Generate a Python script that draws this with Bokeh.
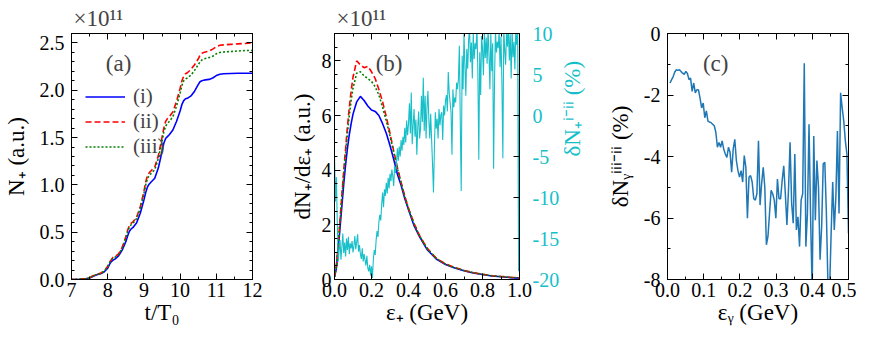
import math
import numpy as np
from bokeh.plotting import figure
from bokeh.layouts import row
from bokeh.models import (LinearAxis, Range1d, SingleIntervalTicker,
                          PrintfTickFormatter, CustomJSTickFormatter, Label)
from bokeh.embed import file_html
from bokeh.resources import INLINE

FONT = "serif"
CYAN = "#17bfc9"
LABEL_SIZE = "23px"

# ---------------- panel (a) data: N+ vs t/T0 (x 1e11) ----------------
t_a = [7.0, 7.2, 7.4, 7.5, 7.6, 7.7, 7.8, 7.9, 8.0, 8.05, 8.1, 8.15, 8.2, 8.3, 8.4,
       8.5, 8.55, 8.6, 8.65, 8.7, 8.8, 8.9, 9.0, 9.05, 9.1, 9.15, 9.2, 9.3, 9.4,
       9.5, 9.55, 9.6, 9.65, 9.7, 9.8, 9.9, 10.0, 10.05, 10.1, 10.15, 10.2, 10.3,
       10.4, 10.5, 10.55, 10.6, 10.65, 10.7, 10.8, 10.9, 11.0, 11.1, 11.2, 11.4,
       11.6, 11.8, 12.0]
N_i = [0.0, 0.002, 0.008, 0.015, 0.035, 0.05, 0.06, 0.08, 0.12, 0.16, 0.19, 0.205,
       0.215, 0.25, 0.31, 0.40, 0.46, 0.51, 0.535, 0.55, 0.60, 0.70, 0.84, 0.92,
       0.98, 1.01, 1.03, 1.07, 1.18, 1.35, 1.44, 1.49, 1.51, 1.53, 1.58, 1.67,
       1.78, 1.85, 1.89, 1.91, 1.915, 1.94, 1.99, 2.06, 2.09, 2.10, 2.105, 2.11,
       2.115, 2.13, 2.155, 2.17, 2.175, 2.178, 2.18, 2.18, 2.18]
N_ii = [0.0, 0.002, 0.01, 0.018, 0.04, 0.055, 0.065, 0.09, 0.14, 0.18, 0.21, 0.235,
        0.24, 0.27, 0.34, 0.45, 0.52, 0.57, 0.595, 0.61, 0.66, 0.77, 0.93, 1.03,
        1.10, 1.13, 1.15, 1.19, 1.31, 1.50, 1.60, 1.67, 1.70, 1.72, 1.77, 1.88,
        2.02, 2.10, 2.15, 2.175, 2.185, 2.22, 2.27, 2.33, 2.37, 2.39, 2.40, 2.405,
        2.415, 2.435, 2.46, 2.475, 2.48, 2.485, 2.49, 2.495, 2.50]
N_iii = [0.0, 0.002, 0.009, 0.017, 0.038, 0.053, 0.063, 0.087, 0.135, 0.175, 0.205,
         0.228, 0.235, 0.265, 0.33, 0.44, 0.505, 0.555, 0.58, 0.595, 0.645, 0.75,
         0.905, 1.0, 1.07, 1.10, 1.12, 1.16, 1.28, 1.46, 1.56, 1.62, 1.65, 1.67,
         1.72, 1.83, 1.97, 2.05, 2.10, 2.12, 2.13, 2.16, 2.21, 2.27, 2.30, 2.32,
         2.33, 2.335, 2.345, 2.36, 2.385, 2.40, 2.405, 2.41, 2.415, 2.42, 2.42]

# ---------------- panel (b) data: dN+/de+ spectra (x 1e11) ----------------
e_b = [0.0, 0.01, 0.02, 0.03, 0.04, 0.05, 0.06, 0.07, 0.08, 0.09, 0.10, 0.12, 0.14,
       0.16, 0.18, 0.20, 0.22, 0.24, 0.26, 0.28, 0.30, 0.32, 0.34, 0.36, 0.38,
       0.40, 0.43, 0.46, 0.50, 0.55, 0.60, 0.65, 0.70, 0.75, 0.80, 0.85, 0.90,
       0.95, 1.0]
S_i = [0.1, 0.4, 1.1, 1.9, 2.7, 3.5, 4.2, 4.8, 5.3, 5.7, 6.05, 6.5, 6.7, 6.55, 6.35,
       6.2, 6.15, 6.0, 5.7, 5.35, 4.9, 4.4, 3.85, 3.45, 2.95, 2.55, 1.97, 1.56,
       1.1, 0.75, 0.55, 0.42, 0.32, 0.24, 0.18, 0.13, 0.1, 0.07, 0.05]
S_ii = [0.1, 0.5, 1.3, 2.2, 3.1, 4.0, 4.8, 5.6, 6.3, 6.9, 7.4, 8.0, 7.85, 7.75, 7.8,
        7.6, 7.35, 6.95, 6.5, 5.95, 5.35, 4.7, 4.1, 3.55, 3.05, 2.6, 2.05, 1.6, 1.15,
        0.78, 0.57, 0.44, 0.33, 0.25, 0.19, 0.14, 0.11, 0.08, 0.06]
S_iii = [0.1, 0.45, 1.2, 2.1, 3.0, 3.85, 4.6, 5.35, 6.0, 6.55, 7.0, 7.55, 7.6, 7.45,
         7.35, 7.25, 7.05, 6.75, 6.3, 5.8, 5.25, 4.65, 4.05, 3.52, 3.03, 2.6, 2.04,
         1.59, 1.14, 0.77, 0.56, 0.43, 0.33, 0.25, 0.19, 0.14, 0.11, 0.08, 0.06]
# relative difference (i - ii), percent, on 0..1 GeV grid step 0.005
dN_i_ii = [
    -4.8, -10.5, -7.5, -13.0, -17.8, -16.5, -15.2, -17.6, -16.0, -14.4,
    -16.8, -15.5, -17.2, -15.0, -16.4, -14.8, -16.9, -15.6, -16.2, -15.3,
    -16.7, -15.9, -14.7, -16.3, -15.4, -14.5, -16.6, -15.8, -16.9, -17.5,
    -16.2, -17.8, -16.9, -17.6, -18.3, -17.1, -18.6, -19.0, -18.2, -19.5,
    -18.4, -19.8, -17.6, -16.4, -17.0, -15.2, -14.1, -14.8, -13.0, -12.1,
    -12.8, -10.9, -9.4, -11.2, -9.0, -9.8, -8.2, -9.5, -7.6, -8.9,
    -7.1, -8.0, -6.6, -7.4, -8.6, -6.2, -7.0, -5.8, -4.0, -5.5,
    -3.8, -5.0, -3.0, -4.3, -2.6, -3.6, -1.5, -3.3, -0.6, -2.4,
    -1.0, 1.5, -2.2, 2.8, -3.5, -1.2, 0.8, -2.6, -0.5, -4.8,
    -1.5, 0.5, -2.8, -1.6, 2.4, -0.8, 4.6, -1.9, 2.4, -2.8,
    1.0, 3.0, -0.5, -2.8, 0.2, -3.0, -6.0, -9.4, -4.0, 0.4,
    -1.6, -0.4, -2.8, 0.8, -1.2, 0.1, 0.4, -3.0, 1.2, 0.0,
    1.8, 2.5, 0.5, 5.3, 2.8, 1.6, 0.4, -4.8, 3.2, 1.0,
    2.2, 1.6, 4.0, 3.2, 4.5, 8.5, -1.0, -9.2, 7.3, 3.2,
    10.0, 6.0, 2.4, 8.1, 5.7, 9.3, 10.5, 6.5, 8.9, 4.5,
    10.1, 6.9, 8.8, 8.1, 10.8, 5.3, -5.4, 7.7, 2.5, 9.7,
    8.2, 4.9, 10.2, 7.0, 9.5, 6.3, 10.6, 7.6, 3.2, 10.0,
    5.4, 8.8, -6.5, 4.2, 10.5, 7.7, 9.0, 8.2, 10.3, 5.9,
    9.6, 3.8, -5.2, 10.6, 8.0, 6.2, 10.3, 8.4, 10.8, 6.7,
    9.9, 4.5, 10.4, 7.1, 9.0, 5.6, 10.7, 8.6, 10.2, -19.0,
    9.5]
e_d = np.linspace(0.0, 1.0, len(dN_i_ii))

# ---------------- panel (c) data: photon difference (iii - ii), percent ----------------
dN_g = [
    -1.61, -1.50, -1.40, -1.25, -1.18, -1.20, -1.18, -1.24, -1.29, -1.33,
    -1.23, -1.30, -1.50, -1.45, -1.88, -1.61, -1.93, -1.83, -1.83, -2.10,
    -2.42, -2.26, -2.74, -2.52, -2.85, -2.88, -2.90, -2.95, -3.00, -3.21,
    -3.70, -3.54, -3.70, -3.49, -3.76, -3.92, -4.03, -3.70, -3.86, -4.51,
    -3.76, -3.44, -4.13, -4.46, -4.67, -4.46, -4.83, -3.97, -4.35, -6.01,
    -4.67, -4.62, -4.83, -5.37, -5.42, -5.21, -3.49, -5.58, -4.88, -4.35,
    -4.99, -6.87, -6.60, -5.85, -5.10, -5.21, -5.42, -6.01, -4.73, -5.37,
    -5.37, -4.78, -4.30, -5.21, -6.23, -5.10, -3.54, -5.53, -6.17, -3.92,
    -6.39, -5.96, -6.93, -5.42, -5.21, -0.97, -6.93, -5.85, -2.95, -5.96,
    -8.40, -3.33, -6.07, -4.13, -5.00, -7.36, -6.28, -4.24, -4.19, -5.85,
    -8.20, -8.40, -6.50, -4.83, -6.39, -5.31, -3.17, -5.85, -1.93, -2.42,
    -2.85, -3.49, -3.92, -6.50]
e_g = np.linspace(0.007, 0.5, len(dN_g))


def style_axis(ax, ticker, fmt=None, labels=True, color="black", standoff=6):
    ax.ticker = ticker
    if fmt is not None:
        ax.formatter = fmt
    ax.major_tick_in = 6
    ax.major_tick_out = 0
    ax.minor_tick_in = 3
    ax.minor_tick_out = 0
    ax.axis_line_color = "black"
    ax.major_tick_line_color = "black"
    ax.minor_tick_line_color = "black"
    ax.major_label_text_font = FONT
    if labels:
        ax.major_label_text_font_size = "20px"
        ax.major_label_text_color = color
        ax.major_label_standoff = standoff
    else:
        ax.major_label_text_font_size = "0px"
        ax.major_label_text_color = None
        ax.major_label_standoff = 0
    ax.axis_label_text_font = FONT
    ax.axis_label_text_font_size = LABEL_SIZE
    ax.axis_label_text_font_style = "normal"
    ax.axis_label_text_color = "black"


def mirror_right(ticker):
    # right-hand mirror axis: ticks only, labels formatted to empty
    ax = LinearAxis()
    style_axis(ax, ticker, CustomJSTickFormatter(code="return ''"), standoff=0)
    ax.major_label_text_color = None
    return ax


def base_fig(width, xr, yr, left, right, title=None):
    p = figure(width=width, height=331, x_range=xr, y_range=yr,
               output_backend="svg", toolbar_location=None,
               min_border_left=left, min_border_right=right,
               min_border_top=31, min_border_bottom=52)
    p.xgrid.visible = False
    p.ygrid.visible = False
    p.outline_line_color = "black"
    p.outline_line_width = 1
    p.background_fill_color = "white"
    p.border_fill_color = "white"
    if title:
        p.title.text = title
        p.title.align = "left"
        p.title.text_font = FONT
        p.title.text_font_size = "23px"
        p.title.text_font_style = "normal"
        p.title.standoff = 6
        p.title.offset = 2
    return p


# ================= panel (a) =================
fa = base_fig(286, Range1d(7, 12), Range1d(0, 2.6), 60, 34, title="×10¹¹")
xt_a = SingleIntervalTicker(interval=1, num_minor_ticks=2)
yt_a = SingleIntervalTicker(interval=0.5, num_minor_ticks=5)
style_axis(fa.below[0], xt_a, PrintfTickFormatter(format="%d"), standoff=3)
style_axis(fa.left[0], yt_a, PrintfTickFormatter(format="%.1f"), standoff=7)
fa.below[0].axis_label = "t/T₀"
fa.below[0].axis_label_standoff = 0
fa.left[0].axis_label = "N₊ (a.u.)"
fa.left[0].axis_label_standoff = 8
top_a = LinearAxis()
style_axis(top_a, xt_a, labels=False)
fa.add_layout(top_a, "above")
fa.add_layout(mirror_right(yt_a), "right")

fa.line(t_a, N_i, line_color="#0000ff", line_width=1.6, legend_label="(i)")
fa.line(t_a, N_ii, line_color="#ff0000", line_width=1.6, line_dash="6 3",
        legend_label="(ii)")
fa.line(t_a, N_iii, line_color="#008000", line_width=1.6, line_dash="2 2",
        legend_label="(iii)")
lg = fa.legend[0]
lg.location = (14, 120)
lg.label_text_font = FONT
lg.label_text_font_size = "21px"
lg.glyph_width = 40
lg.glyph_height = 21
lg.label_height = 21
lg.label_standoff = 8
lg.spacing = 0
lg.padding = 0
lg.margin = 0
lg.border_line_color = None
lg.background_fill_alpha = 0

fa.add_layout(Label(x=8.3, y=2.28, text="(a)", text_align="center",
                    text_baseline="middle", text_font=FONT,
                    text_font_size="23px"))

# ================= panel (b) =================
fb = base_fig(318, Range1d(0, 1), Range1d(0, 9), 40, 85, title="×10¹¹")
fb.extra_y_ranges = {"d": Range1d(-20, 10)}
xt_b = SingleIntervalTicker(interval=0.2, num_minor_ticks=2)
yt_b = SingleIntervalTicker(interval=2, num_minor_ticks=4)
style_axis(fb.below[0], xt_b, PrintfTickFormatter(format="%.1f"), standoff=3)
style_axis(fb.left[0], yt_b, PrintfTickFormatter(format="%d"), standoff=3)
fb.below[0].axis_label = "ε₊ (GeV)"
fb.below[0].axis_label_standoff = 0
fb.left[0].axis_label = "dN₊/dε₊ (a.u.)"
fb.left[0].axis_label_standoff = 4
top_b = LinearAxis()
style_axis(top_b, xt_b, labels=False)
fb.add_layout(top_b, "above")
right_b = LinearAxis(y_range_name="d")
style_axis(right_b, SingleIntervalTicker(interval=5, num_minor_ticks=0),
           PrintfTickFormatter(format="%d"), color=CYAN, standoff=13)
right_b.minor_tick_line_color = None
right_b.axis_label = "δN₊ⁱ⁻ⁱⁱ (%)"
right_b.axis_label_text_color = CYAN
right_b.axis_label_standoff = 10
if "axis_label_orientation" in right_b.properties():
    right_b.axis_label_orientation = math.pi / 2
fb.add_layout(right_b, "right")

fb.line(e_b, S_i, line_color="#0000ff", line_width=1.6)
fb.line(e_b, S_ii, line_color="#ff0000", line_width=1.6, line_dash="6 3")
fb.line(e_b, S_iii, line_color="#008000", line_width=1.6, line_dash="2 2")
fb.line(e_d, dN_i_ii, line_color=CYAN, line_width=1.1, y_range_name="d")

fb.add_layout(Label(x=0.295, y=7.9, text="(b)", text_align="center",
                    text_baseline="middle", text_font=FONT,
                    text_font_size="23px"))

# ================= panel (c) =================
fc = base_fig(252, Range1d(0, 0.5), Range1d(-8, 0), 52, 8)
xt_c = SingleIntervalTicker(interval=0.1, num_minor_ticks=2)
yt_c = SingleIntervalTicker(interval=2, num_minor_ticks=2)
style_axis(fc.below[0], xt_c, PrintfTickFormatter(format="%.1f"), standoff=3)
style_axis(fc.left[0], yt_c, PrintfTickFormatter(format="%d"), standoff=7)
fc.below[0].axis_label = "εᵧ (GeV)"
fc.below[0].axis_label_standoff = 0
fc.left[0].axis_label = "δNᵧⁱⁱⁱ⁻ⁱⁱ (%)"
fc.left[0].axis_label_standoff = 8
top_c = LinearAxis()
style_axis(top_c, xt_c, labels=False)
fc.add_layout(top_c, "above")
fc.add_layout(mirror_right(yt_c), "right")

fc.line(e_g, dN_g, line_color="#1f77b4", line_width=1.5)
fc.add_layout(Label(x=0.133, y=-0.97, text="(c)", text_align="center",
                    text_baseline="middle", text_font=FONT,
                    text_font_size="23px"))

layout = row(fa, fb, fc)
open("out.html", "w").write(file_html(layout, INLINE))
